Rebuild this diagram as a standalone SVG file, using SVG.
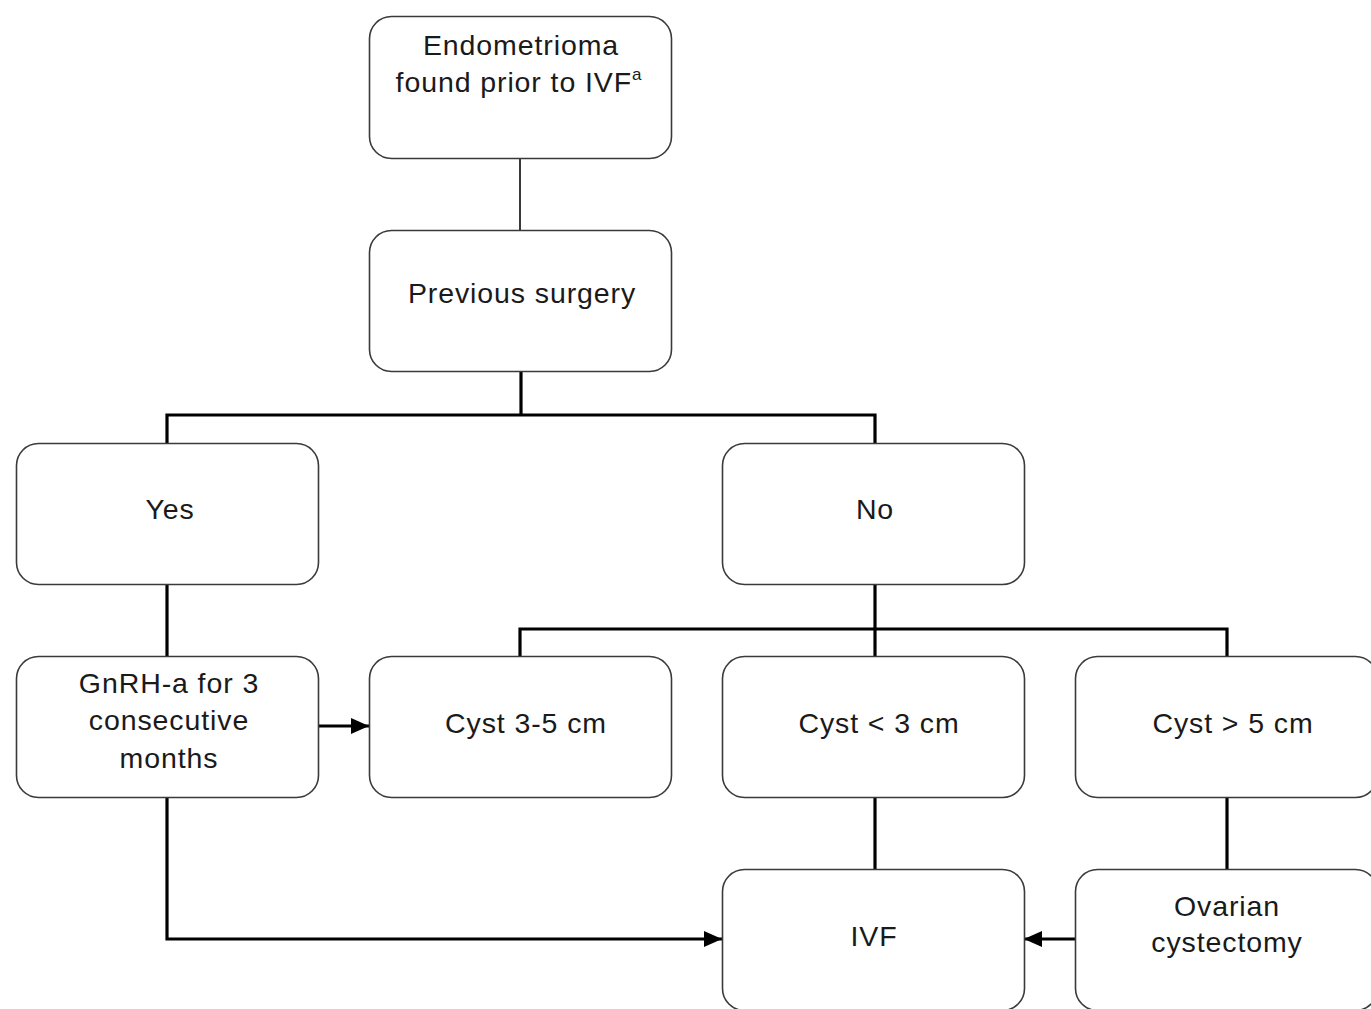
<svg xmlns="http://www.w3.org/2000/svg" width="1371" height="1009" viewBox="0 0 1371 1009">
<style>
.box{fill:#fff;stroke:#3a3a3a;stroke-width:1.6}
.t{font-family:"Liberation Sans",Arial,sans-serif;font-size:28.5px;letter-spacing:0.9px;fill:#1a1a1a;text-anchor:middle}
.thin{stroke:#3a3a3a;stroke-width:2;fill:none}
.thick{stroke:#000;stroke-width:3.2;fill:none}
</style>
<defs>
<marker id="ah2" viewBox="0 0 10 10" refX="10" refY="5" markerWidth="18" markerHeight="16" markerUnits="userSpaceOnUse" orient="auto" preserveAspectRatio="none">
<path d="M0,0 L10,5 L0,10 z" fill="#000"/>
</marker>
</defs>
<rect width="1371" height="1009" fill="#fff"/>
<g id="connectors">
<line class="thin" x1="520" y1="158" x2="520" y2="230"/>
<polyline class="thick" points="521,371 521,415"/>
<polyline class="thick" points="167,443 167,415 875,415 875,443"/>
<line class="thick" x1="167" y1="584" x2="167" y2="656"/>
<line class="thick" x1="875" y1="584" x2="875" y2="656"/>
<polyline class="thick" points="520,656 520,629 1227,629 1227,656"/>
<line class="thick" x1="319" y1="726" x2="369" y2="726" marker-end="url(#ah2)"/>
<polyline class="thick" points="167,797 167,939 722,939" marker-end="url(#ah2)"/>
<line class="thick" x1="875" y1="797" x2="875" y2="869"/>
<line class="thick" x1="1227" y1="797" x2="1227" y2="869"/>
<line class="thick" x1="1075" y1="939" x2="1024" y2="939" marker-end="url(#ah2)"/>
</g>
<g id="n-endometrioma">
<rect class="box" x="369.5" y="16.5" width="302" height="142" rx="22"/>
<text class="t" x="521" y="55">Endometrioma</text>
<text class="t" x="519" y="92">found prior to IVF<tspan font-size="17" dy="-12">a</tspan></text>
</g>
<g id="n-previous">
<rect class="box" x="369.5" y="230.5" width="302" height="141" rx="22"/>
<text class="t" x="522" y="303">Previous surgery</text>
</g>
<g id="n-yes">
<rect class="box" x="16.5" y="443.5" width="302" height="141" rx="22"/>
<text class="t" x="170" y="519">Yes</text>
</g>
<g id="n-no">
<rect class="box" x="722.5" y="443.5" width="302" height="141" rx="22"/>
<text class="t" x="875" y="519">No</text>
</g>
<g id="n-gnrh">
<rect class="box" x="16.5" y="656.5" width="302" height="141" rx="22"/>
<text class="t" x="169" y="693">GnRH-a for 3</text>
<text class="t" x="169" y="730">consecutive</text>
<text class="t" x="169" y="768">months</text>
</g>
<g id="n-cyst35">
<rect class="box" x="369.5" y="656.5" width="302" height="141" rx="22"/>
<text class="t" x="526" y="733">Cyst 3-5 cm</text>
</g>
<g id="n-cystlt3">
<rect class="box" x="722.5" y="656.5" width="302" height="141" rx="22"/>
<text class="t" x="879" y="733">Cyst &lt; 3 cm</text>
</g>
<g id="n-cystgt5">
<rect class="box" x="1075.5" y="656.5" width="302" height="141" rx="22"/>
<text class="t" x="1233" y="733">Cyst &gt; 5 cm</text>
</g>
<g id="n-ivf">
<rect class="box" x="722.5" y="869.5" width="302" height="141" rx="22"/>
<text class="t" x="874" y="946">IVF</text>
</g>
<g id="n-ovarian">
<rect class="box" x="1075.5" y="869.5" width="302" height="141" rx="22"/>
<text class="t" x="1227" y="916">Ovarian</text>
<text class="t" x="1227" y="952">cystectomy</text>
</g>
</svg>
